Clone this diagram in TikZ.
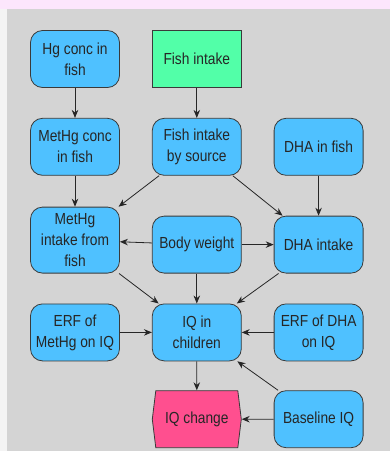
\documentclass[tikz,border=0pt]{standalone}
\usepackage{fontspec}
\setmainfont[FakeStretch=0.86]{Liberation Sans}
\usetikzlibrary{positioning,arrows.meta,shapes.symbols}

\definecolor{bandpink}{HTML}{FCE6FC}
\definecolor{paneledge}{HTML}{F4F4F4}
\definecolor{panelgray}{HTML}{D4D4D4}
\definecolor{varblue}{HTML}{4FC1FF}
\definecolor{decgreen}{HTML}{52FFA8}
\definecolor{valpink}{HTML}{FF4F8F}
\definecolor{edgegray}{HTML}{3A3A3A}

\begin{document}
\begin{tikzpicture}[
  x=1pt, y=-1pt,
  font=\fontsize{16}{21}\selectfont,
  node distance=30pt and 32pt,
  box/.style={draw=edgegray, line width=0.8pt, align=center, text=black!85,
    minimum width=89pt, minimum height=57pt, inner sep=1pt},
  var/.style={box, rounded corners=12pt, fill=varblue},
  dec/.style={box, fill=decgreen},
  val/.style={box, shape=signal, signal to=west and east,
    signal pointer angle=166, fill=valpink},
  arr/.style={-{Stealth[length=8pt,width=6.5pt]}, line width=0.8pt, draw=black!85}
]

% Hintergrund
\useasboundingbox (0,0) rectangle (390,451);
\fill[bandpink] (0,0) rectangle (390,9);
\fill[paneledge] (0,9) rectangle (7,451);
\fill[panelgray] (7,9) rectangle (390,451);

% Obere Reihe
\node[var] (hg) at (75,59) {Hg conc in\\fish};
\node[dec, right=of hg] (fish) {Fish intake};

% Zweite Reihe
\node[var, below=of hg] (mconc) {MetHg conc\\in fish};
\node[var, below=of fish] (source) {Fish intake\\by source};
\node[var, right=of source] (dhafish) {DHA in fish};

% Dritte Reihe
\node[var, below=40pt of source] (bw) {Body weight};
\node[var, right=of bw] (dhaint) {DHA intake};
\node[var, minimum height=66pt, left=32pt of bw.south west, anchor=south east]
  (mint) {MetHg\\intake from\\fish};

% Vierte Reihe
\node[var, below=of bw] (iq) {IQ in\\children};
\node[var, left=of iq] (erfm) {ERF of\\MetHg on IQ};
\node[var, right=of iq] (erfd) {ERF of DHA\\on IQ};

% Untere Reihe
\node[val, below=29pt of iq] (change) {IQ change};
\node[var, right=of change] (base) {Baseline IQ};

% Pfeile
\draw[arr] (hg) -- (mconc);
\draw[arr] (fish) -- (source);
\draw[arr] (mconc) -- (mint);
\draw[arr] (source) -- (mint);
\draw[arr] (source) -- (dhaint);
\draw[arr] (dhafish) -- (dhaint);
\draw[arr] (bw) -- (mint);
\draw[arr] (bw) -- (dhaint);
\draw[arr] (mint) -- (iq);
\draw[arr] (bw) -- (iq);
\draw[arr] (dhaint) -- (iq);
\draw[arr] (erfm) -- (iq);
\draw[arr] (erfd) -- (iq);
\draw[arr] (iq) -- (change);
\draw[arr] (base) -- (change);
\draw[arr] (base) -- (iq);

\end{tikzpicture}
\end{document}
